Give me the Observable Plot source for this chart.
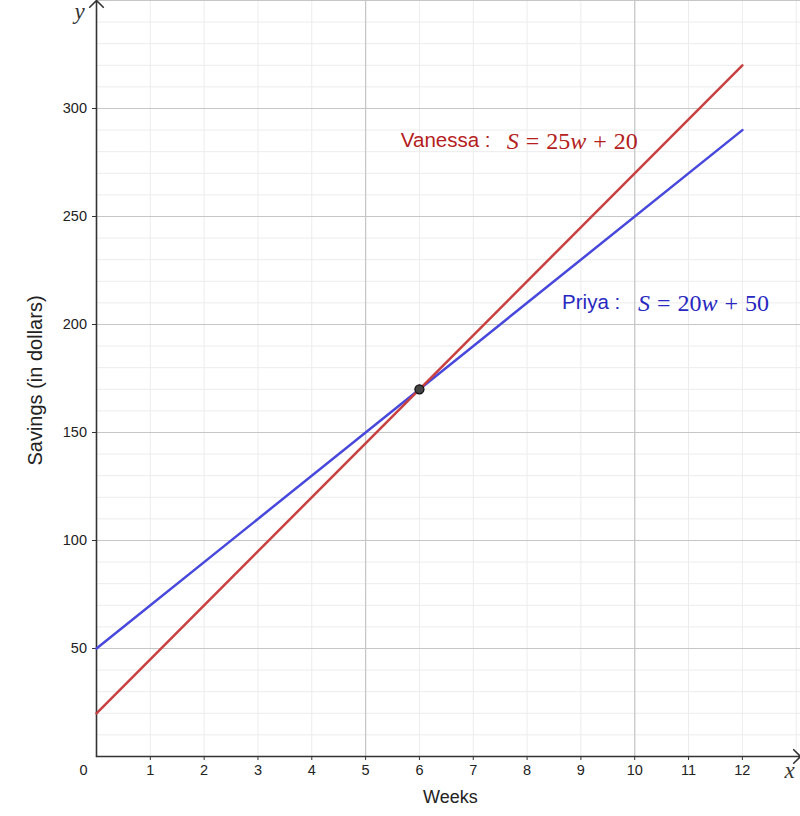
<!DOCTYPE html>
<html>
<head>
<meta charset="utf-8">
<script src="https://cdn.jsdelivr.net/npm/d3@7"></script>
<script src="https://cdn.jsdelivr.net/npm/@observablehq/plot@0.6"></script>
<style>
  html, body { margin: 0; padding: 0; background: #fff; }
  #chart svg { display: block; }
  #chart g[aria-label="x-axis tick label"] text,
  #chart g[aria-label="y-axis tick label"] text { font-size: 14.5px !important; }
</style>
</head>
<body>
<div id="chart"></div>
<script>
// ---- data ----
const weeks = [0, 12];
const vanessaSavings = [20, 320];
const priyaSavings = [50, 290];
const intersection = [6, 170];
const xTicks = [1, 2, 3, 4, 5, 6, 7, 8, 9, 10, 11, 12];
const yTicks = [50, 100, 150, 200, 250, 300];
const names = ["Vanessa :", "Priya :"];
const equations = ["S = 25w + 20", "S = 20w + 50"];
const labelW = [7.32, 9.73];
const labelS = [285, 210];
const eqW = [7.62, 10.06];

const xMax = 13.08, yMax = 350;
const minorX = d3.range(0, 14, 1);
const majorX = [5, 10];
const minorY = d3.range(10, 351, 10);
const majorY = d3.range(50, 351, 50);

const vanessa = weeks.map((w, i) => ({w, s: vanessaSavings[i]}));
const priya = weeks.map((w, i) => ({w, s: priyaSavings[i]}));
const labels = names.map((n, i) => ({n, w: labelW[i], s: labelS[i], eq: equations[i], ew: eqW[i], who: i}));

const red = "#c84040", blue = "#4848dc";
const redText = "#b42020", blueText = "#2828c0";

const plot = Plot.plot({
  width: 800, height: 816,
  marginLeft: 96, marginRight: 0, marginTop: 0, marginBottom: 60,
  x: {domain: [0, xMax], axis: null},
  y: {domain: [0, yMax], axis: null},
  style: {fontFamily: "'Liberation Sans', Arial, sans-serif", background: "#fff"},
  marks: [
    Plot.ruleX(minorX, {stroke: "#ececec", strokeWidth: 1}),
    Plot.ruleY(minorY, {stroke: "#ececec", strokeWidth: 1}),
    Plot.ruleX(majorX, {stroke: "#c6c6c6", strokeWidth: 1.2}),
    Plot.ruleY(majorY, {stroke: "#c6c6c6", strokeWidth: 1.2}),
    Plot.axisX(xTicks, {tickSize: 4, tickPadding: 4, stroke: "#333", color: "#222", anchor: "bottom", label: null}),
    Plot.axisY(yTicks, {tickSize: 4, tickPadding: 5.5, stroke: "#333", color: "#222", anchor: "left", label: null}),
    Plot.text(["0"], {x: 0, y: 0, dx: -13, dy: 14, fontSize: 14.5, fill: "#222"}),
    Plot.arrow([{x1: 0, y1: 0, x2: xMax, y2: 0}], {x1: "x1", y1: "y1", x2: "x2", y2: "y2", stroke: "#333", strokeWidth: 1.6, headLength: 9, headAngle: 90, insetEnd: 0}),
    Plot.arrow([{x1: 0, y1: 0, x2: 0, y2: yMax}], {x1: "x1", y1: "y1", x2: "x2", y2: "y2", stroke: "#333", strokeWidth: 1.6, headLength: 9, headAngle: 90, insetEnd: 0}),
    Plot.text(["x"], {x: xMax, y: 0, dx: -11, dy: 14, fontSize: 23, fontStyle: "italic", fontFamily: "'Liberation Serif', serif", fill: "#333"}),
    Plot.text(["y"], {x: 0, y: yMax, dx: -17, dy: 11, fontSize: 23, fontStyle: "italic", fontFamily: "'Liberation Serif', serif", fill: "#333"}),
    Plot.text(["Weeks"], {x: (450 - 96) / 53.83, y: 0, dy: 41, fontSize: 18, fill: "#222"}),
    Plot.text(["Savings (in dollars)"], {x: 0, y: yMax * (756 - 380) / 756, dx: -61, rotate: -90, fontSize: 20, fill: "#222"}),
    Plot.line(priya, {x: "w", y: "s", stroke: blue, strokeWidth: 2.5}),
    Plot.line(vanessa, {x: "w", y: "s", stroke: red, strokeWidth: 2.5}),
    Plot.dot([intersection], {x: d => d[0], y: d => d[1], r: 4.5, fill: "#444", stroke: "#111", strokeWidth: 1.3}),
    Plot.text(labels, {x: "w", y: "s", text: "n", textAnchor: "end", fontSize: 20.5, fill: d => d.who === 0 ? redText : blueText}),
    Plot.text(labels, {x: "ew", y: "s", text: "eq", textAnchor: "start", fontSize: 24, fontFamily: "'Liberation Serif', serif", fill: d => d.who === 0 ? redText : blueText, className: "eq"})
  ]
});

// typeset equations: letters italic
d3.select(plot).selectAll(".eq text").each(function () {
  const t = d3.select(this);
  const s = t.text();
  t.text(null);
  s.split(" ").forEach((tok, i) => {
    const parts = tok.match(/[A-Za-z]+|[^A-Za-z]+/g) || [];
    parts.forEach((p, j) => {
      const sp = t.append("tspan").text(p);
      if (/[A-Za-z]/.test(p)) sp.attr("font-style", "italic");
      if (i > 0 && j === 0) sp.attr("dx", 7);
    });
  });
});

document.getElementById("chart").appendChild(plot);
</script>
</body>
</html>
